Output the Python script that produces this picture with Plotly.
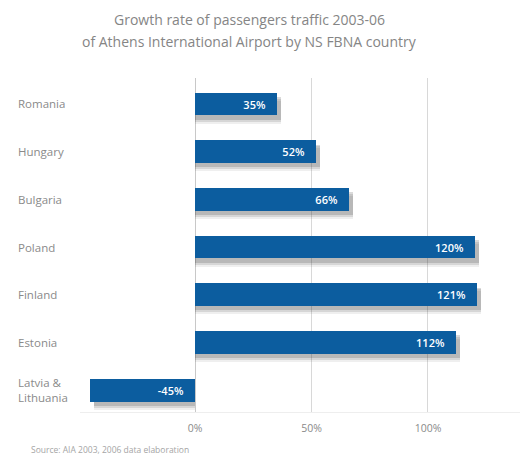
import plotly.graph_objects as go

# Passenger traffic growth 2003-06 by country
countries = ["Romania", "Hungary", "Bulgaria", "Poland", "Finland", "Estonia", "Latvia &<br>Lithuania"]
growth = [35, 52, 66, 120, 121, 112, -45]
x_ticks = [0, 50, 100]
x_tick_labels = ["0%", "50%", "100%"]

title_lines = [
    "Growth rate of passengers traffic 2003-06",
    "of Athens International Airport by NS FBNA country",
]
source_note = "Source: AIA 2003, 2006 data elaboration"

BAR = "#0c5d9f"
TXT = "#8a8a8a"
FONT = "Open Sans"
pos = list(range(len(countries)))

W, H = 524, 454
ML, MR, MT, MB = 80, 4, 78, 42
pw = W - ML - MR
ph = H - MT - MB

fig = go.Figure()

# soft drop shadow under each bar, built from the same values
for dy, op in [(0.17, 0.08), (0.13, 0.13), (0.09, 0.18)]:
    fig.add_trace(go.Bar(
        y=[p + dy for p in pos],
        x=[v + 1.8 for v in growth],
        orientation="h", width=0.48,
        marker=dict(color=f"rgba(50,50,50,{op})", line=dict(width=0)),
        hoverinfo="skip", showlegend=False,
    ))

# value bars: labels sit at the tip for gains, near zero for losses
pos_idx = [i for i, v in enumerate(growth) if v >= 0]
neg_idx = [i for i, v in enumerate(growth) if v < 0]
for idx, anchor in [(pos_idx, "end"), (neg_idx, "start")]:
    fig.add_trace(go.Bar(
        y=[pos[i] for i in idx],
        x=[growth[i] for i in idx],
        orientation="h", width=0.48,
        marker=dict(color=BAR, line=dict(width=0)),
        text=[f"{growth[i]}%\u00a0\u00a0\u00a0" for i in idx],
        textposition="inside", insidetextanchor=anchor,
        textfont=dict(color="white", size=11, family=FONT, weight=600),
        showlegend=False,
    ))

# category labels in a left column
for p, name in zip(pos, countries):
    fig.add_annotation(
        x=(16 - ML) / pw, xref="paper", y=p, yref="y", text=name,
        showarrow=False, xanchor="left", align="left",
        font=dict(size=11.5, color=TXT, family=FONT),
    )

# two-line heading
for line, ty in zip(title_lines, [19, 41]):
    fig.add_annotation(
        x=(249 - ML) / pw, xref="paper", y=(H - MB - ty) / ph, yref="paper",
        text=line, showarrow=False, xanchor="center", yanchor="middle",
        font=dict(size=14, color="#858585", family=FONT),
    )

fig.add_annotation(
    x=(29 - ML) / pw, xref="paper", y=(H - MB - 450) / ph, yref="paper",
    text=source_note, showarrow=False, xanchor="left", yanchor="middle",
    font=dict(size=8.5, color="#a5a5a5", family=FONT),
)

fig.update_layout(
    width=W, height=H,
    margin=dict(l=ML, r=MR, t=MT, b=MB),
    paper_bgcolor="white", plot_bgcolor="white",
    barmode="overlay", bargap=0,
    xaxis=dict(
        range=[-49.4, 139.5], tickvals=x_ticks, ticktext=x_tick_labels,
        showgrid=True, gridcolor="#d8d8d8", gridwidth=1,
        zeroline=True, zerolinecolor="#c8c8c8", zerolinewidth=1,
        showline=True, linecolor="#eeeeee", linewidth=1,
        ticks="", ticklabelstandoff=6,
        tickfont=dict(size=10.5, color=TXT, family=FONT),
        fixedrange=True,
    ),
    yaxis=dict(
        range=[6.46, -0.545], showticklabels=False, showgrid=False,
        zeroline=False, showline=False, ticks="", fixedrange=True,
    ),
)

fig.write_html("out.html")
